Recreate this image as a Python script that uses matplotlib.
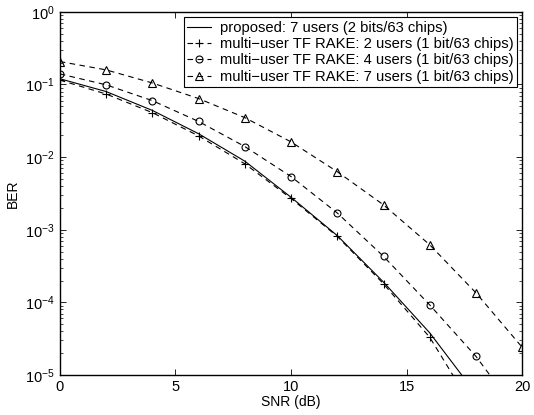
import numpy as np
import matplotlib
matplotlib.use("Agg")
from matplotlib import pyplot as plt
from matplotlib.ticker import LogLocator, NullFormatter

plt.rcParams['font.family'] = ['Liberation Sans', 'DejaVu Sans']
plt.rcParams['mathtext.fontset'] = 'custom'
plt.rcParams['mathtext.rm'] = 'Liberation Sans'

snr = [0, 2, 4, 6, 8, 10, 12, 14, 16, 18, 20]

ber_proposed = [0.12, 0.08, 0.044, 0.021, 0.0088, 0.0028, 8.3e-4, 1.9e-4, 3.8e-5, 5.5e-6, 6e-7]
ber_rake2 = [0.115, 0.074, 0.041, 0.0196, 0.0081, 0.0027, 8.1e-4, 1.8e-4, 3.3e-5, 3e-6, 2e-7]
ber_rake4 = [0.14, 0.099, 0.060, 0.031, 0.014, 0.0054, 0.0017, 4.3e-4, 9.2e-5, 1.8e-5, 2.5e-6]
ber_rake7 = [0.207, 0.159, 0.105, 0.064, 0.035, 0.0162, 0.0063, 0.0022, 6.2e-4, 1.35e-4, 2.4e-5]

labels = ["proposed: 7 users (2 bits/63 chips)",
          "multi\u2212user TF RAKE: 2 users (1 bit/63 chips)",
          "multi\u2212user TF RAKE: 4 users (1 bit/63 chips)",
          "multi\u2212user TF RAKE: 7 users (1 bit/63 chips)"]

fig = plt.figure(figsize=(5.34, 4.15), dpi=100)
ax = fig.add_axes([0.112, 0.0964, 0.866, 0.875])

lw = 0.8
dash = (0, (5, 4))
ax.semilogy(snr, ber_proposed, '-', color='black', lw=lw, label=labels[0])
ax.semilogy(snr, ber_rake2, color='black', ls=dash, lw=lw, marker='+', ms=6,
            mew=0.8, label=labels[1])
ax.semilogy(snr, ber_rake4, color='black', ls=dash, lw=lw, marker='o', ms=5,
            mfc='none', mew=0.8, label=labels[2])
ax.semilogy(snr, ber_rake7, color='black', ls=dash, lw=lw, marker='^', ms=6,
            mfc='none', mew=0.8, label=labels[3])

ax.set_xlim(0, 20)
ax.set_ylim(1e-5, 1)
ax.set_xticks([0, 5, 10, 15, 20])
ax.yaxis.set_major_locator(LogLocator(base=10, numticks=10))
ax.yaxis.set_minor_locator(LogLocator(base=10, subs=np.arange(2, 10), numticks=20))
ax.yaxis.set_minor_formatter(NullFormatter())
ax.tick_params(which='both', direction='in', top=True, right=True, labelsize=10.5)
ax.tick_params(which='major', length=4, width=0.6)
ax.tick_params(which='minor', length=2, width=0.5)
for s in ax.spines.values():
    s.set_linewidth(1.0)

ax.set_xlabel("SNR (dB)", fontsize=10, labelpad=1)
ax.set_ylabel("BER", fontsize=10, labelpad=4)

leg = ax.legend(loc='upper right', fontsize=10.6, frameon=True, fancybox=False,
                borderaxespad=0.35, handlelength=1.6, borderpad=0.25,
                labelspacing=0.16, handletextpad=0.6)
leg.get_frame().set_edgecolor('black')
leg.get_frame().set_linewidth(0.8)
leg.get_frame().set_alpha(1)

fig.savefig("out.png", dpi=100)
